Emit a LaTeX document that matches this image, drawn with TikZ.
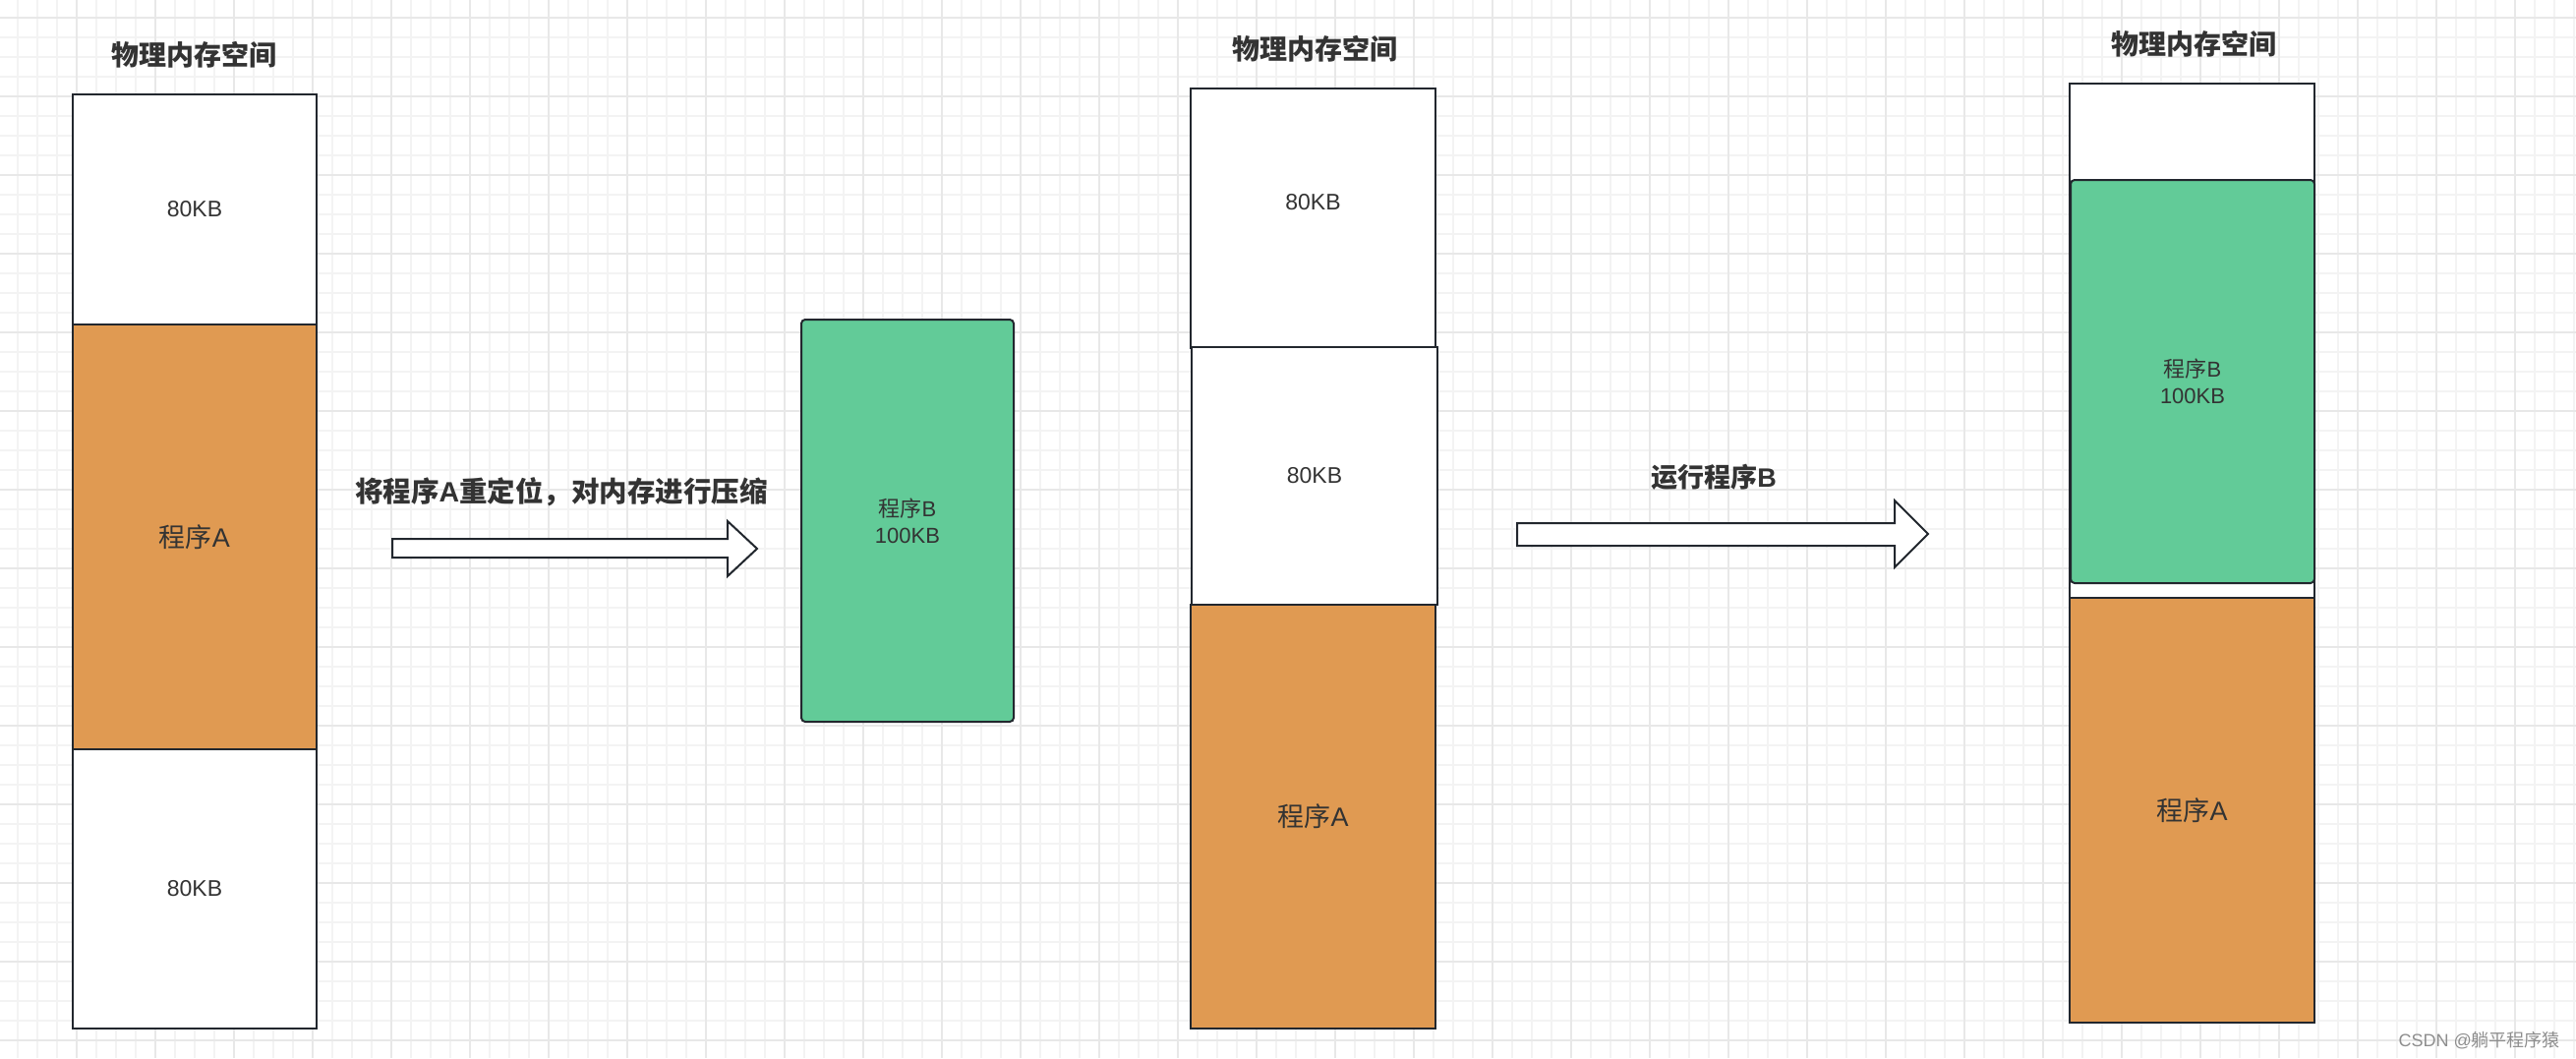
\documentclass[tikz,border=0pt]{standalone}
\usepackage{fontspec}
\setmainfont{Liberation Sans}
\newfontfamily\cjk{Noto Sans CJK SC}
\definecolor{gridminor}{HTML}{F3F3F3}
\definecolor{gridmajor}{HTML}{E8E8E8}
\definecolor{stroke}{HTML}{22272E}
\definecolor{txtc}{HTML}{333333}
\definecolor{orangeA}{HTML}{E09A52}
\definecolor{greenB}{HTML}{62CB98}
\definecolor{wmark}{HTML}{8E8E8E}
\tikzset{
  mem/.style={draw=stroke, line width=2pt, inner sep=0pt, outer sep=0pt, text=txtc, align=center},
  wbox/.style={mem, fill=white},
  obox/.style={mem, fill=orangeA},
  gbox/.style={mem, fill=greenB, rounded corners=4pt},
  kbtxt/.style={text=txtc, font=\fontsize{23}{27}\selectfont},
  atxt/.style={font=\fontsize{27}{32}\selectfont},
  btxt/.style={font=\fontsize{22}{27}\selectfont},
  title/.style={text=txtc, inner sep=0pt, font=\fontsize{28}{32}\selectfont\bfseries},
  blockarrow/.style={draw=stroke, line width=2pt, fill=white, line join=miter},
}
\begin{document}
\begin{tikzpicture}[x=1pt, y=-1pt]
\useasboundingbox (0,0) rectangle (2620,1076);
\fill[white] (0,0) rectangle (2620,1076);
% grid
\foreach \x in {18,38,...,2618} \draw[gridminor, line width=2pt] (\x,0) -- (\x,1076);
\foreach \y in {18,38,...,1076} \draw[gridminor, line width=2pt] (0,\y) -- (2620,\y);
\foreach \x in {78,158,...,2618} \draw[gridmajor, line width=2pt] (\x,0) -- (\x,1076);
\foreach \y in {18,98,...,1076} \draw[gridmajor, line width=2pt] (0,\y) -- (2620,\y);

% column 1
\node[title] (t1) at (197,56) {\cjk 物理内存空间};
\node[wbox, minimum width=248pt, minimum height=234pt, kbtxt] (a1) at (198,213) {80KB};
\node[obox, minimum width=248pt, minimum height=432pt, atxt] (a2) at (198,546) {{\cjk 程序}A};
\node[wbox, minimum width=248pt, minimum height=284pt, kbtxt] (a3) at (198,904) {80KB};

% arrow 1
\node[title, font=\fontsize{28.5}{32}\selectfont\bfseries] (l1) at (571,500) {{\cjk 将程序}A{\cjk 重定位，对内存进行压缩}};
\draw[blockarrow] (399,548) -- (740,548) -- (740,530) -- (770,558) -- (740,586) -- (740,567) -- (399,567) -- cycle;

% program B
\node[gbox, minimum width=216pt, minimum height=409pt, btxt] (pb) at (923,529.5) {{\cjk 程序}B\\100KB};

% column 2
\node[title] (t2) at (1337,50) {\cjk 物理内存空间};
\node[wbox, minimum width=249pt, minimum height=264pt] (b1) at (1335.5,222) {};
\node[kbtxt] (b1t) at (1335.5,206) {80KB};
\node[wbox, minimum width=250pt, minimum height=262pt, kbtxt] (b2) at (1337,484) {80KB};
\node[obox, minimum width=249pt, minimum height=431pt, atxt] (b3) at (1335.5,830.5) {{\cjk 程序}A};

% arrow 2
\node[title, font=\fontsize{27}{32}\selectfont\bfseries] (l2) at (1743,485) {{\cjk 运行程序}B};
\draw[blockarrow] (1543,532) -- (1927,532) -- (1927,509) -- (1961,543) -- (1927,577) -- (1927,555) -- (1543,555) -- cycle;

% column 3
\node[title] (t3) at (2231,45) {\cjk 物理内存空间};
\node[wbox, minimum width=249pt, minimum height=955pt] (c0) at (2229.5,562.5) {};
\node[gbox, minimum width=248pt, minimum height=410pt, btxt] (c1) at (2230,388) {{\cjk 程序}B\\100KB};
\node[obox, minimum width=249pt, minimum height=432pt, atxt] (c2) at (2229.5,824) {{\cjk 程序}A};

% watermark
\node[anchor=east, inner sep=0pt, text=wmark, font=\fontsize{18}{20}\selectfont] (wm) at (2604,1058) {CSDN @{\cjk 躺平程序猿}};
\end{tikzpicture}
\end{document}
